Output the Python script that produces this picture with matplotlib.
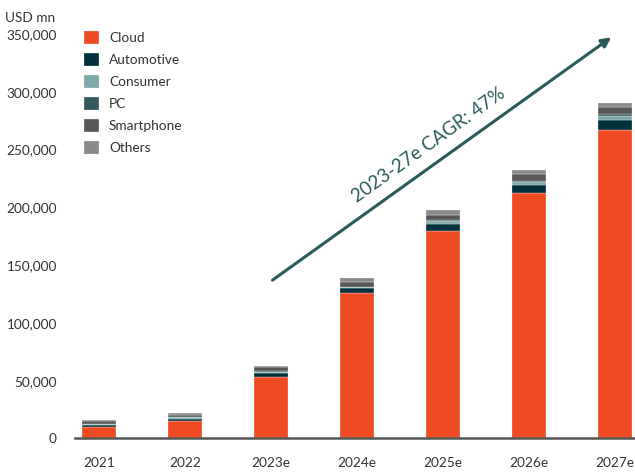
import matplotlib.pyplot as plt
from matplotlib.ticker import FuncFormatter
import numpy as np

plt.rcParams['font.family'] = ['Lato', 'DejaVu Sans']

years = ["2021", "2022", "2023e", "2024e", "2025e", "2026e", "2027e"]
cloud = [10200, 15400, 53000, 125800, 179500, 212700, 267000]
automotive = [1200, 1400, 3500, 4300, 6000, 6300, 8700]
consumer = [1000, 1400, 1400, 1000, 2900, 3000, 3700]
pc = [400, 500, 500, 400, 1000, 1000, 1200]
smartphone = [2100, 2000, 3200, 3500, 3800, 6000, 6000]
others = [1200, 1400, 1500, 3800, 4300, 3600, 3700]

series = [("Cloud", cloud, "#ee4b22"),
          ("Automotive", automotive, "#00313c"),
          ("Consumer", consumer, "#7fa8ab"),
          ("PC", pc, "#35595c"),
          ("Smartphone", smartphone, "#575757"),
          ("Others", others, "#8a8a8a")]

fig = plt.figure(figsize=(6.35, 4.72), dpi=100)
ax = fig.add_axes([0.118, 0.071, 0.882, 0.857])

x = np.arange(len(years))
bottom = np.zeros(len(years))
for name, vals, col in series:
    ax.bar(x, vals, 0.4, bottom=bottom, color=col, label=name,
           edgecolor="white", linewidth=0.2)
    bottom += np.array(vals)

ax.set_xlim(-0.28, 6.23)
ax.set_ylim(0, 350000)
ax.set_xticks(x)
ax.set_xticklabels(years)
ax.set_yticks(np.arange(0, 350001, 50000))
ax.yaxis.set_major_formatter(FuncFormatter(lambda v, p: f"{int(v):,}"))
ax.tick_params(axis="both", length=0, labelsize=9.8, colors="#333333")
ax.tick_params(axis="x", pad=13)
ax.tick_params(axis="y", pad=13)
for s in ["top", "right", "left"]:
    ax.spines[s].set_visible(False)
ax.spines["bottom"].set_color("#555555")
ax.spines["bottom"].set_linewidth(1.8)

fig.text(0.008, 0.962, "USD mn", fontsize=9.8, color="#333333", va="center")

leg = ax.legend(loc="upper left", bbox_to_anchor=(0.0, 1.03), frameon=False,
                fontsize=9.8, handlelength=1.05, handleheight=1.05,
                labelspacing=0.66, handletextpad=0.75, borderaxespad=0.3)
for t in leg.get_texts():
    t.set_color("#333333")

# CAGR arrow
ax.annotate("", xy=(5.98, 348500), xytext=(1.99, 135600),
            arrowprops=dict(arrowstyle="-|>", color="#2b5a5a", lw=2.2,
                            mutation_scale=14), annotation_clip=False)
ax.text(3.83, 254000, "2023-27e CAGR: 47%", rotation=35.6, fontsize=13.5,
        color="#2b5a5a", ha="center", va="center", rotation_mode="anchor")

fig.savefig("out.png", dpi=100)
